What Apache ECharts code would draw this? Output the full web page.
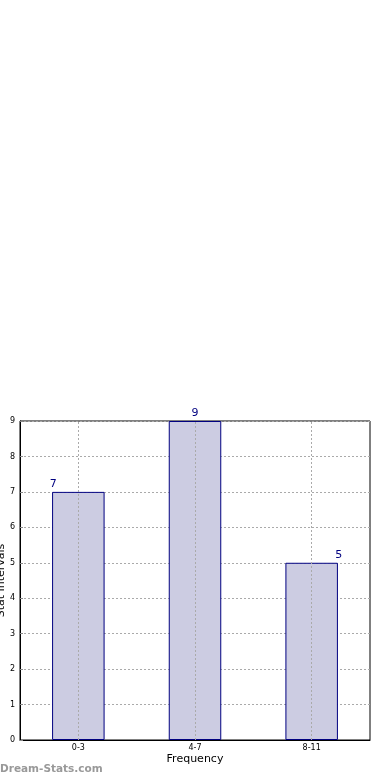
<!DOCTYPE html>
<html><head><meta charset="utf-8">
<script src="https://cdn.jsdelivr.net/npm/echarts@6/dist/echarts.min.js"></script>
<style>html,body{margin:0;padding:0;background:#fff}#c{width:390px;height:780px}</style>
</head><body><div id="c"></div>
<script>
const categories = ['0-3', '4-7', '8-11'];
const values = [7, 9, 5];
const yTicks = [0, 1, 2, 3, 4, 5, 6, 7, 8, 9];
const labelShifts = [-25, 0, 27];

const chart = echarts.init(document.getElementById('c'));
chart.setOption({
  animation: false,
  backgroundColor: '#fff',
  grid: { left: 20, right: 20, top: 421, bottom: 40, show: true, borderColor: '#000', borderWidth: 1, backgroundColor: 'transparent', outerBoundsMode: 'none', containLabel: false },
  xAxis: {
    type: 'category', data: categories,
    name: 'Frequency', nameLocation: 'middle', nameGap: 14, nameMoveOverlap: false,
    nameTextStyle: { fontFamily: 'DejaVu Sans', fontSize: 11, color: '#000' },
    axisLine: { lineStyle: { color: '#000' } },
    axisTick: { show: false },
    axisLabel: { fontFamily: 'DejaVu Sans', fontSize: 8, color: '#000', margin: 4 },
    splitLine: { show: false }
  },
  yAxis: {
    type: 'value', min: 0, max: 9, interval: 1,
    name: 'Stat Intervals', nameLocation: 'middle', nameRotate: 90, nameGap: 13, nameMoveOverlap: false,
    nameTextStyle: { fontFamily: 'DejaVu Sans', fontSize: 11, color: '#000' },
    axisLine: { show: true, lineStyle: { color: '#000' } },
    axisTick: { show: true, inside: true, length: 3, lineStyle: { color: '#888' } },
    axisLabel: { fontFamily: 'DejaVu Sans', fontSize: 8, color: '#000', margin: 5,
      formatter: v => yTicks.includes(v) ? String(v) : '' },
    splitLine: { show: true, lineStyle: { color: '#aaa', type: [2, 2], width: 1 } }
  },
  series: [{
    type: 'bar',
    barWidth: '45%',
    data: values.map((v, i) => ({ value: v, label: { offset: [labelShifts[i], 0] } })),
    itemStyle: { color: '#ccccE2', borderColor: '#000080', borderWidth: 1 },
    label: { show: true, position: 'top', distance: 2, color: '#000080', fontFamily: 'DejaVu Sans', fontSize: 11 },
    markLine: {
      symbol: 'none', silent: true, label: { show: false },
      lineStyle: { color: '#aaa', type: [2, 2], width: 1 },
      data: categories.map(c => ({ xAxis: c }))
    }
  }],
  graphic: [{ type: 'text', left: 0, top: 764, style: { text: 'Dream-Stats.com', fontFamily: 'DejaVu Sans', fontSize: 10.5, fontWeight: 'bold', fill: '#999' } }]
});
</script></body></html>
